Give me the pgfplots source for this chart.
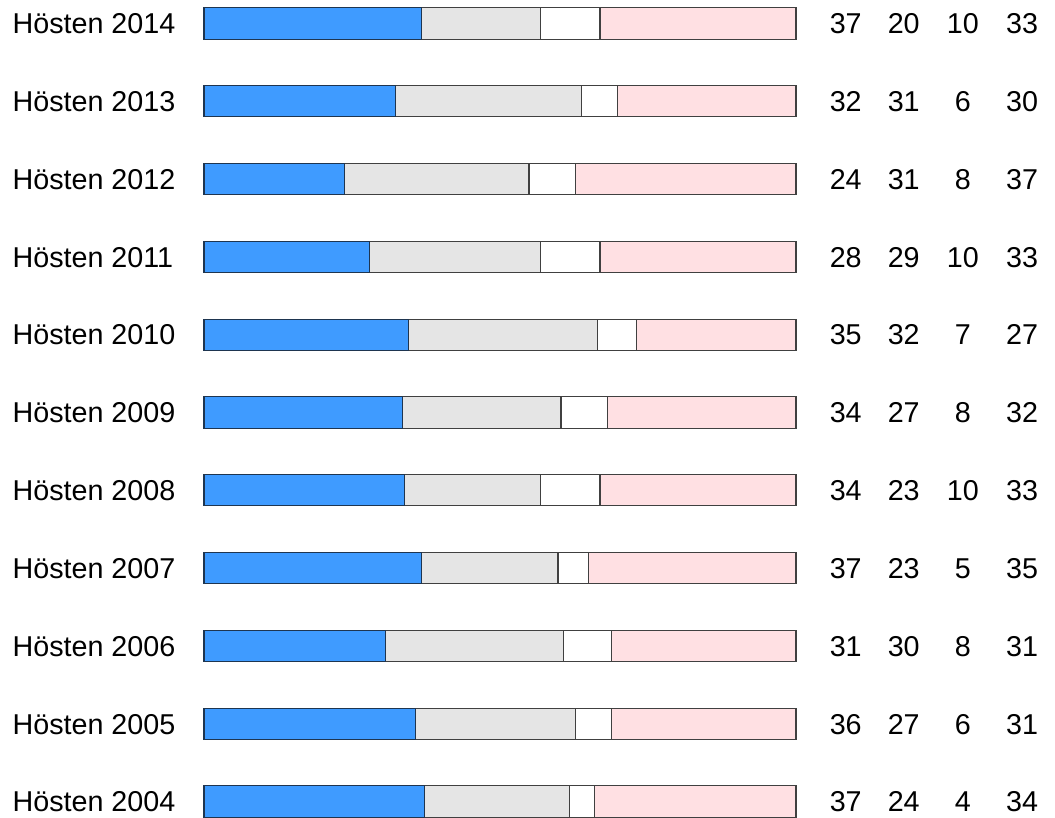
\documentclass[border=0pt]{standalone}
\usepackage{pgfplots}
\pgfplotsset{compat=1.18}
\usepackage{pgfplotstable}
\usepackage{fontspec}
\setmainfont{Liberation Sans}
\definecolor{cblue}{HTML}{3F9BFF}
\definecolor{cgrey}{HTML}{E5E5E5}
\definecolor{cpink}{HTML}{FFE0E3}
\definecolor{cblueedge}{HTML}{1E3550}
\pgfplotstableread{
y  b    g    w    p
0  37.3 24.4 4.2  34.1
1  35.8 27.0 6.1  31.1
2  30.7 30.1 8.1  31.1
3  36.8 23.0 5.1  35.1
4  33.8 23.1 10.0 33.1
5  33.6 26.7 7.8  31.9
6  34.6 31.8 6.7  26.9
7  27.9 29.0 10.0 33.1
8  23.8 31.1 7.9  37.2
9  32.3 31.4 6.1  30.2
10 36.8 20.1 10.0 33.1
}\datatable
\tikzset{lbl/.style={font=\fontsize{14.35}{17}\selectfont, inner sep=0pt, text height=10.3pt, text depth=0pt}}
\begin{document}
\begin{tikzpicture}
\begin{axis}[
  scale only axis,
  width=296pt, height=389pt,
  xmin=0, xmax=100, ymin=0, ymax=10,
  hide axis,
  clip=false,
  xbar stacked,
  bar width=0.4,
]
\addplot[fill=cblue, draw=cblueedge, line width=0.55pt] table[x=b, y=y] {\datatable};
\addplot[fill=cgrey, draw=black!75, line width=0.55pt] table[x=g, y=y] {\datatable};
\addplot[fill=white, draw=black!75, line width=0.55pt] table[x=w, y=y] {\datatable};
\addplot[fill=cpink, draw=black!75, line width=0.55pt] table[x=p, y=y] {\datatable};
% year labels
\node[lbl,anchor=west] at (axis cs:-32.4,10) {Hösten 2014};
\node[lbl,anchor=west] at (axis cs:-32.4,9) {Hösten 2013};
\node[lbl,anchor=west] at (axis cs:-32.4,8) {Hösten 2012};
\node[lbl,anchor=west] at (axis cs:-32.4,7) {Hösten 2011};
\node[lbl,anchor=west] at (axis cs:-32.4,6) {Hösten 2010};
\node[lbl,anchor=west] at (axis cs:-32.4,5) {Hösten 2009};
\node[lbl,anchor=west] at (axis cs:-32.4,4) {Hösten 2008};
\node[lbl,anchor=west] at (axis cs:-32.4,3) {Hösten 2007};
\node[lbl,anchor=west] at (axis cs:-32.4,2) {Hösten 2006};
\node[lbl,anchor=west] at (axis cs:-32.4,1) {Hösten 2005};
\node[lbl,anchor=west] at (axis cs:-32.4,0) {Hösten 2004};
% value columns
\node[lbl] at (axis cs:108.4,10) {37}; \node[lbl] at (axis cs:118.2,10) {20}; \node[lbl] at (axis cs:128.2,10) {10}; \node[lbl] at (axis cs:138.2,10) {33};
\node[lbl] at (axis cs:108.4,9) {32}; \node[lbl] at (axis cs:118.2,9) {31}; \node[lbl] at (axis cs:128.2,9) {6}; \node[lbl] at (axis cs:138.2,9) {30};
\node[lbl] at (axis cs:108.4,8) {24}; \node[lbl] at (axis cs:118.2,8) {31}; \node[lbl] at (axis cs:128.2,8) {8}; \node[lbl] at (axis cs:138.2,8) {37};
\node[lbl] at (axis cs:108.4,7) {28}; \node[lbl] at (axis cs:118.2,7) {29}; \node[lbl] at (axis cs:128.2,7) {10}; \node[lbl] at (axis cs:138.2,7) {33};
\node[lbl] at (axis cs:108.4,6) {35}; \node[lbl] at (axis cs:118.2,6) {32}; \node[lbl] at (axis cs:128.2,6) {7}; \node[lbl] at (axis cs:138.2,6) {27};
\node[lbl] at (axis cs:108.4,5) {34}; \node[lbl] at (axis cs:118.2,5) {27}; \node[lbl] at (axis cs:128.2,5) {8}; \node[lbl] at (axis cs:138.2,5) {32};
\node[lbl] at (axis cs:108.4,4) {34}; \node[lbl] at (axis cs:118.2,4) {23}; \node[lbl] at (axis cs:128.2,4) {10}; \node[lbl] at (axis cs:138.2,4) {33};
\node[lbl] at (axis cs:108.4,3) {37}; \node[lbl] at (axis cs:118.2,3) {23}; \node[lbl] at (axis cs:128.2,3) {5}; \node[lbl] at (axis cs:138.2,3) {35};
\node[lbl] at (axis cs:108.4,2) {31}; \node[lbl] at (axis cs:118.2,2) {30}; \node[lbl] at (axis cs:128.2,2) {8}; \node[lbl] at (axis cs:138.2,2) {31};
\node[lbl] at (axis cs:108.4,1) {36}; \node[lbl] at (axis cs:118.2,1) {27}; \node[lbl] at (axis cs:128.2,1) {6}; \node[lbl] at (axis cs:138.2,1) {31};
\node[lbl] at (axis cs:108.4,0) {37}; \node[lbl] at (axis cs:118.2,0) {24}; \node[lbl] at (axis cs:128.2,0) {4}; \node[lbl] at (axis cs:138.2,0) {34};
% bounding box matching the reference proportions
\path (axis cs:-34.46,-0.212) rectangle (axis cs:143.75,10.302);
\end{axis}
\end{tikzpicture}
\end{document}
